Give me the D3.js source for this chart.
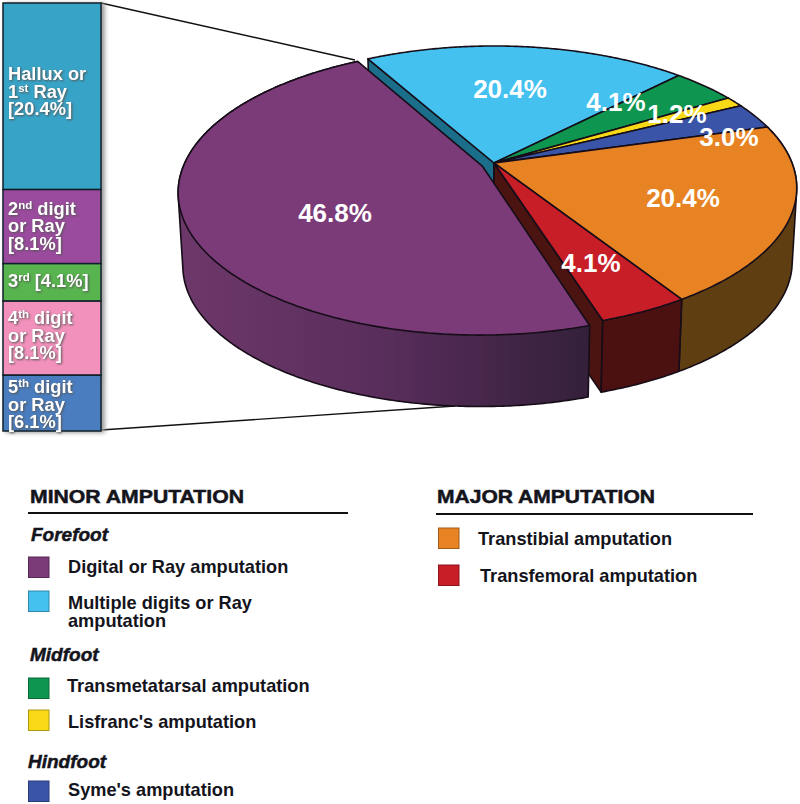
<!DOCTYPE html>
<html><head><meta charset="utf-8">
<script src="https://cdnjs.cloudflare.com/ajax/libs/d3/7.8.5/d3.min.js"></script>
<style>
html,body{margin:0;padding:0;background:#fff}
svg{display:block}
text{font-family:"Liberation Sans",Arial,sans-serif}
</style></head><body>
<svg id="c" width="800" height="804"></svg>
<script>
// ---- data ----
const sliceNames  = ["Digital or Ray","Multiple digits or Ray","Transmetatarsal","Lisfranc's","Syme's","Transtibial","Transfemoral"];
const sliceValues = [46.8, 20.4, 4.1, 1.2, 3.0, 20.4, 4.1];
const sliceColors = ["#7b3b78","#45c1f0","#0e9650","#f7d917","#3a55a8","#e88324","#c81e28"];
const barNames    = ["Hallux or|1^st^ Ray","2^nd^ digit|or Ray","3^rd^","4^th^ digit|or Ray","5^th^ digit|or Ray"];
const barValues   = [20.4, 8.1, 4.1, 8.1, 6.1];
const barColors   = ["#37a3c6","#9b4b9d","#58b44f","#f291bb","#4a7dbf"];
const minorGroups = ["Forefoot","Midfoot","Hindfoot"];
const minorItems  = [["Digital or Ray amputation"],["Multiple digits or Ray","amputation"],["Transmetatarsal amputation"],["Lisfranc's amputation"],["Syme's amputation"]];
const majorItems  = [["Transtibial amputation"],["Transfemoral amputation"]];

// ---- layout ----
const svg = d3.select("#c");
const R = 298, K = 137.6, P = 0.176, CX = 494, CY = 163, DEPTH = 74, SHRINK = 0.985;
const X = d3.scaleLinear().domain([-1,1]).range([CX-R,CX+R]);
const Y = d3.scaleLinear().domain([-1,1]).range([CY-K,CY+K]);
const explode = {u:-0.038, v:0.025};
const project = (a,r,off,bottom) => {
  const u = r*Math.sin(a)+off.u, v = -r*Math.cos(a)+off.v, w = 1-P*v, s = bottom?SHRINK:1;
  return [X(s*u/w), Y(s*v/w)+(bottom?DEPTH:0)];
};
const none = {u:0,v:0};
const deg = Math.PI/180;
const pie = d3.pie().sort(null).value(d=>d).startAngle(-29.2*deg).endAngle(330.8*deg);
const arcsRaw = pie(sliceValues.slice(1).concat(sliceValues[0]));
const arcs = [arcsRaw[6]].concat(arcsRaw.slice(0,6));
const rim = (a0,a1,off,bottom) => d3.range(a0,a1,0.5*deg).concat([a1]).map(a=>project(a,1,off,bottom));
const line = d3.line();
const closed = pts => line(pts)+"Z";
const wallHull = (a0,a1,off) => closed(d3.polygonHull(rim(a0,a1,off,false).concat(rim(a0,a1,off,true))));

const defs = svg.append("defs");
const grad = defs.append("linearGradient").attr("id","wall").attr("gradientUnits","userSpaceOnUse")
  .attr("x1",X(-1)).attr("x2",X(0.33)).attr("y1",0).attr("y2",0);
grad.selectAll("stop").data([[0,"#6c3769"],[0.45,"#5a2e5c"],[1,"#33203a"]]).join("stop")
  .attr("offset",d=>d[0]).attr("stop-color",d=>d[1]);

// connector lines
const barX = d3.scaleLinear().domain([0,1]).range([3,101]);
const barY = d3.scaleLinear().domain([0,d3.sum(barValues)]).range([3,431]);
const connectors = svg.append("g").attr("stroke","#111").attr("stroke-width",1.4);
connectors.append("line").attr("x1",barX(1)).attr("y1",barY(0)).attr("x2",355).attr("y2",60);
connectors.append("line").attr("x1",barX(1)).attr("y1",barY(46.8)-1).attr("x2",455).attr("y2",406);

// stacked bar
const cum = d3.cumsum(barValues);
const barG = svg.append("g");
barG.append("g").style("filter","drop-shadow(3px 1px 2px #999)")
  .selectAll("rect").data(barValues).join("rect")
  .attr("x",barX(0)).attr("width",barX(1)-barX(0))
  .attr("y",(d,i)=>barY(cum[i]-d)).attr("height",d=>barY(d)-barY(0))
  .attr("fill",(d,i)=>barColors[i]).attr("stroke","#10202a").attr("stroke-width",1.5);
const barBase = [77,25,23,23,18];
const LH = 17.5;
const labelG = barG.append("g").attr("fill","#fff").attr("font-weight","bold").attr("font-size",18.3)
  .style("filter","drop-shadow(1px 1px 1px #555)");
barNames.forEach((nm,i)=>{
  const parts = nm.split("|");
  const pct = "["+barValues[i].toFixed(1)+"%]";
  const top = barY(cum[i]-barValues[i])+barBase[i];
  const lines = i===2 ? [nm+" "+pct] : parts.concat([pct]);
  lines.forEach((ln,j)=>{
    const t = labelG.append("text").attr("x",8).attr("y",top+j*LH);
    ln.split("^").forEach((seg,k)=>{
      const sup = k%2===1;
      t.append("tspan").text(seg).attr("font-size",sup?11.5:null)
       .attr("dy",sup?-6:(k>0?6:null));
    });
  });
});

// pie: inner faces + outer walls first
const sideColors = ["url(#wall)","#1b6e8a","#0a5a30","#8a7a10","#1f2f66","#5f3e12","#4b1010"];
const stroke = "#160d18";
const pieG = svg.append("g").attr("stroke",stroke).attr("stroke-width",1.6).attr("stroke-linejoin","round");
const face = (a,off,fill) => {
  const tv = project(0,0,off,false), bv = project(0,0,off,true);
  pieG.append("path").attr("d",closed([tv,project(a,1,off,false),project(a,1,off,true),bv])).attr("fill",fill);
};
// main group: faces exposed by the separated slice
face(arcs[1].startAngle,none,sideColors[1]);
face(arcs[6].endAngle,none,"#4b1410");
// outer walls of the main group
[5,6].forEach(i=>{
  const d=arcs[i];
  pieG.append("path").attr("d",wallHull(d.startAngle,d.endAngle,none)).attr("fill",sideColors[i]);
});
// tops of the main group
[1,2,3,4,5,6].forEach(i=>{
  const d=arcs[i];
  pieG.append("path").attr("d",closed([project(0,0,none,false)].concat(rim(d.startAngle,d.endAngle,none,false))))
    .attr("fill",sliceColors[i]);
});
// separated purple slice
const a0=arcs[6].endAngle, a1=arcs[1].startAngle+2*Math.PI;
pieG.append("path").attr("d",wallHull(a0,a1,explode)).attr("fill","url(#wall)");
pieG.append("path").attr("d",closed([project(0,0,explode,false)].concat(rim(a0,a1,explode,false))))
  .attr("fill",sliceColors[0]);

// percent labels
const labelAt = [[335,222],[510,98],[616,111],[677,123],[729,146],[683,207],[591,272]];
svg.append("g").attr("fill","#fff").attr("font-weight","bold").attr("font-size",26).attr("text-anchor","middle")
  .selectAll("text").data(sliceValues).join("text")
  .attr("x",(d,i)=>labelAt[i][0]).attr("y",(d,i)=>labelAt[i][1])
  .text(d=>d.toFixed(1)+"%");

// legend
const ink="#14141c";
const legend = svg.append("g").attr("fill",ink);
const heading=(txt,x,w,y,rx0,rx1,ry)=>{
  legend.append("text").attr("x",x).attr("y",y).attr("font-weight","bold").attr("font-size",18.5)
    .attr("textLength",w).attr("lengthAdjust","spacingAndGlyphs").attr("stroke",ink).attr("stroke-width",0.5).text(txt);
  legend.append("line").attr("x1",rx0).attr("x2",rx1).attr("y1",ry).attr("y2",ry).attr("stroke","#111").attr("stroke-width",1.8);
};
heading("MINOR AMPUTATION",30,214,503,28,348,513);
heading("MAJOR AMPUTATION",437,218,503,436,753,514);
const groupPos=[[31,541],[30,661],[28,768]];
legend.selectAll("text.g").data(minorGroups).join("text").attr("class","g")
  .attr("x",(d,i)=>groupPos[i][0]).attr("y",(d,i)=>groupPos[i][1])
  .attr("font-weight","bold").attr("font-style","italic").attr("font-size",19).attr("stroke",ink).attr("stroke-width",0.5).text(d=>d);
const item=(lines,color,sx,sy,tx,ty)=>{
  legend.append("rect").attr("x",sx).attr("y",sy).attr("width",20.5).attr("height",20.5).attr("fill",color)
    .attr("stroke",d3.color(color).darker(1)).attr("stroke-width",1);
  lines.forEach((l,j)=>legend.append("text").attr("x",tx).attr("y",ty+j*18).attr("font-weight","bold").attr("font-size",18.2).text(l));
};
const minorPos=[[557,68,573],[591,68,609],[678,67,692],[710,68,728],[781,68,796]];
minorItems.forEach((l,i)=>item(l,sliceColors[i],28.5,minorPos[i][0],minorPos[i][1],minorPos[i][2]));
const majorPos=[[528,478,545],[565,480,582]];
majorItems.forEach((l,i)=>item(l,sliceColors[5+i],438.5,majorPos[i][0],majorPos[i][1],majorPos[i][2]));
</script>
</body></html>
